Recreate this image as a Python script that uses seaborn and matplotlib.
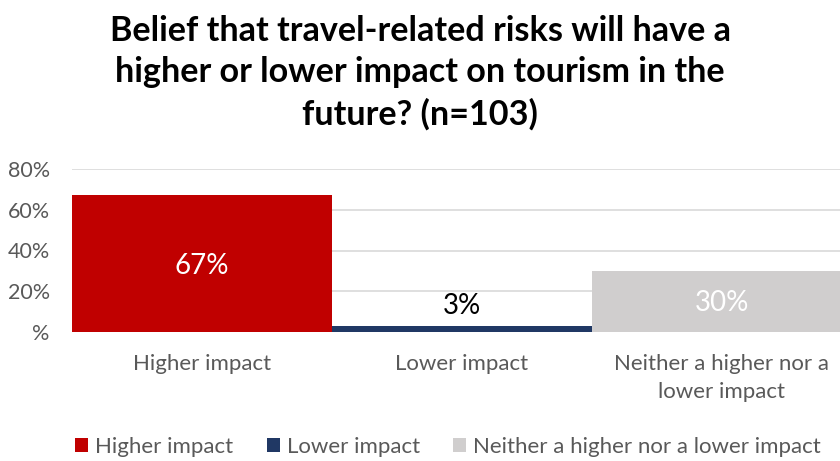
import matplotlib
matplotlib.use("Agg")
import matplotlib.pyplot as plt
import seaborn as sns
import pandas as pd
from matplotlib.patches import Patch

categories = ["Higher impact", "Lower impact", "Neither a higher nor a lower impact"]
tick_labels = ["Higher impact", "Lower impact", "Neither a higher nor a\nlower impact"]
values = [0.67, 0.03, 0.30]
colors = ["#C00000", "#203864", "#D0CECE"]
label_colors = ["white", "black", "white"]
yticks = [0, 0.2, 0.4, 0.6, 0.8]
ytick_labels = ["%", "20%", "40%", "60%", "80%"]
title = "Belief that travel-related risks will have a\nhigher or lower impact on tourism in the\nfuture? (n=103)"

sns.set_theme(style="white")
plt.rcParams["font.family"] = ["Lato", "DejaVu Sans"]

df = pd.DataFrame({"category": categories, "value": values})

fig = plt.figure(figsize=(8.4, 4.61), dpi=100)
W, H = 840, 461
ax = fig.add_axes([72 / W, (H - 332) / H, 780 / W, 163 / H])

sns.barplot(data=df, x="category", y="value", hue="category",
            palette=colors, width=1.0, dodge=False, legend=False, ax=ax,
            saturation=1, linewidth=0, edgecolor="none")

ax.set_ylim(0, 0.8)
ax.set_xlim(-0.5, 2.5)
ax.set_yticks(yticks)
ax.set_yticklabels(ytick_labels, color="#595959", fontsize=15.5)
ax.set_xticks(range(3))
ax.set_xticklabels(tick_labels, color="#595959", fontsize=16, linespacing=1.5)
ax.tick_params(axis="x", length=0, pad=16)
ax.tick_params(axis="y", length=0, pad=16)
ax.set_xlabel("")
ax.set_ylabel("")
for s in ax.spines.values():
    s.set_visible(False)
ax.set_axisbelow(True)
ax.yaxis.grid(True, color="#D9D9D9", linewidth=1.2)
ax.axhline(0, color="#D9D9D9", linewidth=1.2, zorder=0.5)

# data labels: centred in the bar, or just above a bar too short to hold one
for i, (v, c) in enumerate(zip(values, label_colors)):
    y = v / 2 - 0.01 if v > 0.1 else v + 0.1
    ax.text(i, y, f"{round(v * 100)}%", ha="center", va="center",
            color=c, fontsize=20)

fig.text(0.5, 1 - 15 / H, title, ha="center", va="top", fontsize=24.6,
         fontweight="bold", color="black", linespacing=1.36)

handles = [Patch(facecolor=c, edgecolor="none") for c in colors]
fig.legend(handles, categories, loc="center", bbox_to_anchor=(448 / W, 1 - 447 / H),
           ncol=3, frameon=False, fontsize=16, handlelength=0.6, handleheight=0.6,
           handletextpad=0.3, columnspacing=1.5, labelcolor="#595959")

fig.savefig("out.png", dpi=100)
